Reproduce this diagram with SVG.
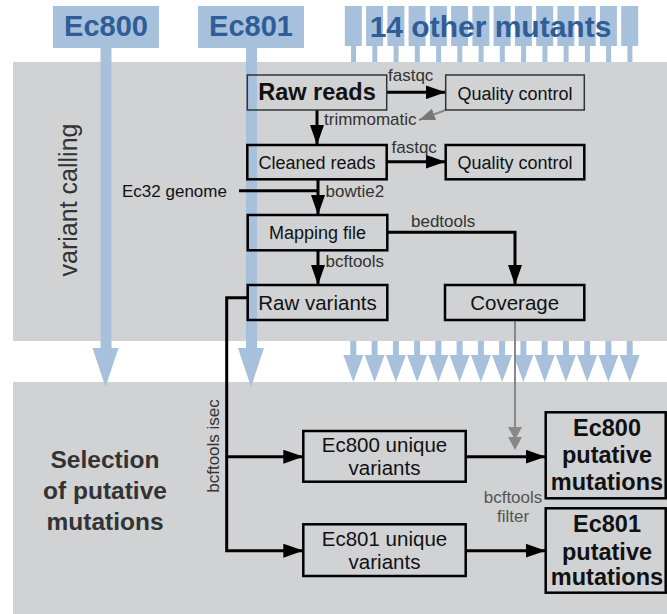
<svg xmlns="http://www.w3.org/2000/svg" width="667" height="614" viewBox="0 0 667 614">
<style>
text{font-family:"Liberation Sans",Arial,sans-serif;}
.panel{fill:#d1d2d4;}
.blue{fill:#a7c0dc;}
.btitle{font-size:29px;font-weight:bold;fill:#2e5d97;text-anchor:middle;}
.sec{fill:#333;text-anchor:middle;}
.box{fill:none;stroke:#000;stroke-width:2.5;}
.boxt{fill:none;stroke:#333;stroke-width:1.5;}
.nt{font-size:18px;fill:#111;text-anchor:middle;}
.nt.big{font-size:20.5px;}
.nt.bb{font-size:23.5px;font-weight:bold;}
.lbl{font-size:17px;fill:#333;}
.con{fill:none;stroke:#000;stroke-width:3;}
.gcon{fill:none;stroke:#888;stroke-width:2;}
.bold{font-weight:bold;}
</style>
<defs>
<marker id="ah" markerUnits="userSpaceOnUse" markerWidth="20" markerHeight="14" refX="20" refY="7" orient="auto" viewBox="0 0 20 14">
<path d="M0,0 L20,7 L0,14 z" fill="#000"/>
</marker>
<marker id="gah" markerUnits="userSpaceOnUse" markerWidth="16" markerHeight="12" refX="16" refY="6" orient="auto" viewBox="0 0 16 12">
<path d="M0,0 L16,6 L0,12 z" fill="#777"/>
</marker>
</defs>

<!-- mutant input arrows (top) -->
<g id="mutants">
<g class="blue">
<rect x="344.8" y="6" width="17" height="40"/><rect x="351" y="46" width="5" height="16"/>
<rect x="366.1" y="6" width="17" height="40"/><rect x="372.3" y="46" width="5" height="16"/>
<rect x="387.4" y="6" width="17" height="40"/><rect x="393.6" y="46" width="5" height="16"/>
<rect x="408.6" y="6" width="17" height="40"/><rect x="414.8" y="46" width="5" height="16"/>
<rect x="429.9" y="6" width="17" height="40"/><rect x="436.1" y="46" width="5" height="16"/>
<rect x="451.1" y="6" width="17" height="40"/><rect x="457.3" y="46" width="5" height="16"/>
<rect x="472.4" y="6" width="17" height="40"/><rect x="478.6" y="46" width="5" height="16"/>
<rect x="493.6" y="6" width="17" height="40"/><rect x="499.8" y="46" width="5" height="16"/>
<rect x="514.9" y="6" width="17" height="40"/><rect x="521.1" y="46" width="5" height="16"/>
<rect x="536.2" y="6" width="17" height="40"/><rect x="542.4" y="46" width="5" height="16"/>
<rect x="557.4" y="6" width="17" height="40"/><rect x="563.6" y="46" width="5" height="16"/>
<rect x="578.7" y="6" width="17" height="40"/><rect x="584.9" y="46" width="5" height="16"/>
<rect x="599.9" y="6" width="17" height="40"/><rect x="606.1" y="46" width="5" height="16"/>
<rect x="621.2" y="6" width="17" height="40"/><rect x="627.4" y="46" width="5" height="16"/>
</g>
<text class="btitle" x="490.5" y="37" style="font-size:30px">14 other mutants</text>
</g>

<!-- panels -->
<rect class="panel" x="13" y="62" width="654" height="279"/>
<rect class="panel" x="13" y="382" width="654" height="232"/>

<!-- mutant arrows in gap -->
<g id="mutant-arrows" class="blue">
<path d="M350.3,341h6v14h7l-10,27l-10,-27h7z"/>
<path d="M371.6,341h6v14h7l-10,27l-10,-27h7z"/>
<path d="M392.9,341h6v14h7l-10,27l-10,-27h7z"/>
<path d="M414.1,341h6v14h7l-10,27l-10,-27h7z"/>
<path d="M435.4,341h6v14h7l-10,27l-10,-27h7z"/>
<path d="M456.6,341h6v14h7l-10,27l-10,-27h7z"/>
<path d="M477.9,341h6v14h7l-10,27l-10,-27h7z"/>
<path d="M499.1,341h6v14h7l-10,27l-10,-27h7z"/>
<path d="M520.4,341h6v14h7l-10,27l-10,-27h7z"/>
<path d="M541.7,341h6v14h7l-10,27l-10,-27h7z"/>
<path d="M562.9,341h6v14h7l-10,27l-10,-27h7z"/>
<path d="M584.2,341h6v14h7l-10,27l-10,-27h7z"/>
<path d="M605.4,341h6v14h7l-10,27l-10,-27h7z"/>
<path d="M626.7,341h6v14h7l-10,27l-10,-27h7z"/>
</g>

<!-- Ec800 / Ec801 inputs -->
<g id="ec800">
<rect class="blue" x="53" y="6" width="106" height="42"/>
<path class="blue" d="M100.5,48h11v300h7l-13,39l-13,-39h8z"/>
<text class="btitle" x="106" y="36">Ec800</text>
</g>
<g id="ec801">
<rect class="blue" x="198" y="6" width="106" height="42"/>
<path class="blue" d="M246,48h11v300h7l-13,39l-13,-39h8z"/>
<text class="btitle" x="251" y="36">Ec801</text>
</g>

<!-- section titles -->
<text class="sec" font-size="25" transform="translate(77,200) rotate(-90)">variant calling</text>
<g class="sec bold" font-size="24.5">
<text x="105" y="468">Selection</text>
<text x="105" y="499">of putative</text>
<text x="105" y="530">mutations</text>
</g>

<!-- connectors -->
<g id="connectors">
<path class="con" d="M386.7,92.3H445.5" marker-end="url(#ah)"/>
<path class="gcon" d="M445.7,110L419,120" marker-end="url(#gah)"/>
<path class="con" d="M317,110V145" marker-end="url(#ah)"/>
<path class="con" d="M386.7,161.7H445.5" marker-end="url(#ah)"/>
<path class="con" d="M239,190.7H318"/>
<path class="con" d="M318,179.3V215" marker-end="url(#ah)"/>
<path class="con" d="M318,250.3V285" marker-end="url(#ah)"/>
<path class="con" d="M387.3,232.3H515V285" marker-end="url(#ah)"/>
<path class="con" d="M248,297.7H226.7V550.7H303.3" marker-end="url(#ah)"/>
<path class="con" d="M226.7,456.7H303.3" marker-end="url(#ah)"/>
<path class="con" d="M465.7,456.7H545.7" marker-end="url(#ah)"/>
<path class="con" d="M465.7,550.7H545.7" marker-end="url(#ah)"/>
<path class="gcon" d="M515,320V440"/>
<path d="M508,427H522L515,440z M508,437H522L515,450z" fill="#888"/>
<text class="lbl" x="388" y="81">fastqc</text>
<text class="lbl" x="324" y="125">trimmomatic</text>
<text class="lbl" x="391.5" y="153">fastqc</text>
<text class="lbl" x="122" y="197" style="fill:#111">Ec32 genome</text>
<text class="lbl" x="325.5" y="197">bowtie2</text>
<text class="lbl" x="411" y="227">bedtools</text>
<text class="lbl" x="325.5" y="267">bcftools</text>
<text class="lbl" text-anchor="middle" transform="translate(219,446) rotate(-90)">bcftools isec</text>
<text class="lbl" x="513" y="503" text-anchor="middle" style="fill:#555">bcftools</text>
<text class="lbl" x="513" y="522" text-anchor="middle" style="fill:#555">filter</text>
</g>

<!-- nodes -->
<g id="raw-reads">
<rect class="boxt" x="247.3" y="75" width="139.4" height="35"/>
<text class="nt bb" x="317" y="100">Raw reads</text>
</g>
<g id="qc1">
<rect class="boxt" x="445.7" y="75" width="138.6" height="35"/>
<text class="nt" x="515" y="99.5">Quality control</text>
</g>
<g id="cleaned-reads">
<rect class="box" x="247.3" y="145" width="139.4" height="34.3"/>
<text class="nt" x="317" y="168.5">Cleaned reads</text>
</g>
<g id="qc2">
<rect class="box" x="445.7" y="145" width="138.6" height="34.3"/>
<text class="nt" x="515" y="168.5">Quality control</text>
</g>
<g id="mapping-file">
<rect class="box" x="247.7" y="215" width="139.6" height="35.3"/>
<text class="nt" x="317.5" y="238.5">Mapping file</text>
</g>
<g id="raw-variants">
<rect class="box" x="247.7" y="285" width="139.6" height="35"/>
<text class="nt big" x="317.5" y="309.5">Raw variants</text>
</g>
<g id="coverage">
<rect class="box" x="445" y="285" width="139.3" height="35"/>
<text class="nt big" x="514.7" y="309.5">Coverage</text>
</g>
<g id="ec800-unique">
<rect class="box" x="303.3" y="431" width="162.4" height="50.7"/>
<text class="nt big" x="384.5" y="452">Ec800 unique</text>
<text class="nt big" x="384.5" y="475">variants</text>
</g>
<g id="ec801-unique">
<rect class="box" x="303.3" y="524.3" width="162.4" height="51.7"/>
<text class="nt big" x="384.5" y="546">Ec801 unique</text>
<text class="nt big" x="384.5" y="569">variants</text>
</g>
<g id="ec800-putative">
<rect class="box" x="545.7" y="412.3" width="120" height="86"/>
<text class="nt bb" x="607" y="436">Ec800</text>
<text class="nt bb" x="607" y="463.3">putative</text>
<text class="nt bb" x="607" y="490">mutations</text>
</g>
<g id="ec801-putative">
<rect class="box" x="545.7" y="508.3" width="120" height="84.4"/>
<text class="nt bb" x="607" y="531.7">Ec801</text>
<text class="nt bb" x="607" y="560">putative</text>
<text class="nt bb" x="607" y="585">mutations</text>
</g>
</svg>
